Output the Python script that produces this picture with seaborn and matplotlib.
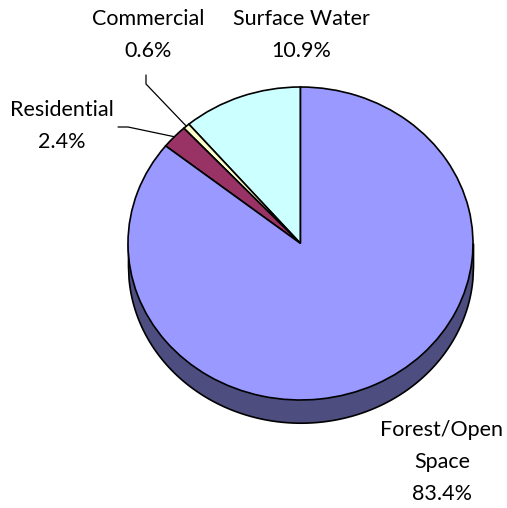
import numpy as np
import matplotlib
matplotlib.use("Agg")
import matplotlib.pyplot as plt
import seaborn as sns

# Land use shares (percent), drawn counter-clockwise from twelve o'clock
categories = ["Surface Water", "Commercial", "Residential", "Forest/Open Space"]
shares = [10.9, 0.6, 2.4, 83.4]
label_lines = [["Surface Water", "10.9%"],
               ["Commercial", "0.6%"],
               ["Residential", "2.4%"],
               ["Forest/Open", "Space", "83.4%"]]

top_colors = ["#CCFFFF", "#FFFFCC", "#993366", "#9999FF"]
side_color = "#4D4D80"

sns.set_style("white")
plt.rcParams["font.family"] = ["Lato", "DejaVu Sans"]

W, H = 507, 508
fig = plt.figure(figsize=(W / 100, H / 100), dpi=100)
ax = fig.add_axes([0, 0, 1, 1])

# pixel geometry of the tilted pie
cx, cy = 300.5, 243.5      # centre (pixels from top-left)
rx, ry = 172.5, 156.5      # horizontal / vertical radius in pixels
depth = 0.145              # extrusion depth in radius units

# side of the disc
xs = np.linspace(-1, 1, 600)
lower = -np.sqrt(np.clip(1 - xs ** 2, 0, None))
ax.fill_between(xs, lower - depth, 0, color=side_color, edgecolor="black",
                linewidth=1.2, zorder=1)

wedges, _ = ax.pie(shares, colors=top_colors, startangle=90, counterclock=True,
                   radius=1.0,
                   wedgeprops=dict(edgecolor="black", linewidth=1.2))
for w in wedges:
    w.set_zorder(3)

ax.set_aspect("auto")
ax.set_xlim(-cx / rx, (W - cx) / rx)
ax.set_ylim(-(H - cy) / ry, cy / ry)
ax.axis("off")


def px(x, y):
    """pixel position (from top-left) -> data coordinates"""
    return (x - cx) / rx, (cy - y) / ry


# mid-angle of each wedge, for leader lines
total = sum(shares)
cum = np.cumsum([0] + shares)
mid = [np.deg2rad(90 + 360 * (cum[i] + shares[i] / 2) / total) for i in range(len(shares))]

# label placement: (centre x, first line centre y) in pixels
label_pos = [(301, 19.5), (148.5, 19.5), (62, 110.5), (442, 430)]
line_gap = 32
for lines, (lx, ly) in zip(label_lines, label_pos):
    for k, t in enumerate(lines):
        x, y = px(lx, ly + k * line_gap)
        ax.text(x, y, t, ha="center", va="center", fontsize=15.5,
                color="black", zorder=5)

# leader lines for the thin slices
leaders = {1: [(146, 75), (146, 84)], 2: [(118, 127), (128, 127)]}
for i, pts in leaders.items():
    xy = [px(*p) for p in pts] + [(np.cos(mid[i]), np.sin(mid[i]))]
    ax.plot([p[0] for p in xy], [p[1] for p in xy], color="black",
            linewidth=0.9, zorder=4)

fig.savefig("out.png", dpi=100, facecolor="white")
